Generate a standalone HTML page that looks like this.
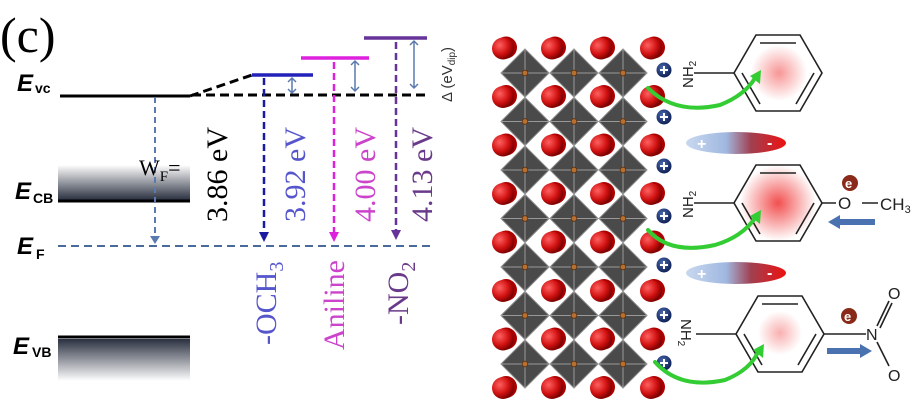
<!DOCTYPE html>
<html><head><meta charset="utf-8"><style>
html,body{margin:0;padding:0;background:#fff;}
svg{display:block;}
</style></head><body>
<svg width="921" height="410" viewBox="0 0 921 410" xmlns="http://www.w3.org/2000/svg">
<defs>
<linearGradient id="cb" x1="0" y1="0" x2="0" y2="1"><stop offset="0" stop-color="#fff"/><stop offset="1" stop-color="#2a3040"/></linearGradient>
<linearGradient id="vb" x1="0" y1="0" x2="0" y2="1"><stop offset="0" stop-color="#2a3040"/><stop offset="1" stop-color="#fff"/></linearGradient>
<linearGradient id="dip" x1="0" y1="0" x2="1" y2="0"><stop offset="0" stop-color="#c8d8f0"/><stop offset="0.4" stop-color="#a0b8e0"/><stop offset="0.65" stop-color="#a04050"/><stop offset="1" stop-color="#ee1111"/></linearGradient>
<radialGradient id="blob"><stop offset="0" stop-color="#f03030" stop-opacity="0.85"/><stop offset="1" stop-color="#f03030" stop-opacity="0"/></radialGradient>
<radialGradient id="sph" cx="0.35" cy="0.35" r="0.7"><stop offset="0" stop-color="#ff6060"/><stop offset="0.6" stop-color="#d01010"/><stop offset="1" stop-color="#700000"/></radialGradient>
<radialGradient id="pl" cx="0.4" cy="0.35" r="0.7"><stop offset="0" stop-color="#4a6ab0"/><stop offset="1" stop-color="#0a1a50"/></radialGradient>
<g id="oct"><path d="M0,-24 L24,0 L0,24 L-24,0 Z" fill="#4a4a4a" stroke="#888" stroke-width="1"/><path d="M0,-24 L0,24 M-24,0 L24,0" stroke="#999" stroke-width="1"/><circle r="2.8" fill="#b87030" stroke="#5a3010" stroke-width="0.8"/></g>
<g id="sp"><ellipse cx="3" cy="-1" rx="11" ry="11" fill="#a00"/><circle r="11" fill="url(#sph)"/></g>
<g id="plus"><circle r="7.5" fill="url(#pl)"/><path d="M-4,0 H4 M0,-4 V4" stroke="#fff" stroke-width="2"/></g>
<g id="orow">
<use href="#oct" x="525" y="0"/><use href="#oct" x="574" y="0"/><use href="#oct" x="623" y="0"/>
</g>
<g id="srow">
<use href="#sp" x="503" y="0"/><use href="#sp" x="552" y="0"/><use href="#sp" x="601" y="0"/><use href="#sp" x="651" y="0"/>
</g>
</defs>

<!-- Left panel -->
<text x="0" y="52" font-family="Liberation Serif,serif" font-size="50">(c)</text>
<g font-family="Liberation Sans,sans-serif" font-weight="bold" font-style="italic">
<text x="17" y="91" font-size="24">E</text><text x="35" y="93" font-size="14" font-style="normal">vc</text>
<text x="15" y="199" font-size="24">E</text><text x="33" y="203" font-size="14" font-style="normal">CB</text>
<text x="17" y="254" font-size="24">E</text><text x="36" y="259" font-size="14" font-style="normal">F</text>
<text x="13" y="354" font-size="24">E</text><text x="32" y="357" font-size="14" font-style="normal">VB</text>
</g>
<rect x="58" y="165" width="132" height="35" fill="url(#cb)"/>
<line x1="58" y1="201" x2="190" y2="201" stroke="#000" stroke-width="3"/>
<line x1="58" y1="337" x2="190" y2="337" stroke="#000" stroke-width="3"/>
<rect x="58" y="339" width="132" height="42" fill="url(#vb)"/>
<line x1="60" y1="96" x2="190" y2="96" stroke="#000" stroke-width="3"/>
<path d="M190,96 L252,75" stroke="#000" stroke-width="3" stroke-dasharray="9,5"/>
<line x1="192" y1="95" x2="430" y2="95" stroke="#000" stroke-width="3" stroke-dasharray="9,5"/>
<line x1="58" y1="246" x2="432" y2="246" stroke="#4a6a9a" stroke-width="2" stroke-dasharray="8,5"/>
<line x1="252" y1="75" x2="313" y2="75" stroke="#2222bb" stroke-width="3.5"/>
<line x1="301" y1="58" x2="369" y2="58" stroke="#dd22dd" stroke-width="3.5"/>
<line x1="364" y1="38" x2="427" y2="38" stroke="#663399" stroke-width="3.5"/>
<g stroke="#5a7ab0" stroke-width="1.5" fill="none">
<path d="M292,78 V93 M288,82 L292,78 L296,82 M288,89 L292,93 L296,89"/>
<path d="M355,61 V91 M351,65 L355,61 L359,65 M351,87 L355,91 L359,87"/>
<path d="M414,41 V88 M410,45 L414,41 L418,45 M410,84 L414,88 L418,84"/>
</g>
<text transform="translate(452,102) rotate(-90)" font-family="Liberation Sans,sans-serif" font-size="15" fill="#333">Δ (eV<tspan font-size="10" dy="3">dip</tspan><tspan dy="-3">)</tspan></text>
<line x1="155" y1="97" x2="155" y2="238" stroke="#5a7ab0" stroke-width="2" stroke-dasharray="6,4"/>
<path d="M150,236 L155,244 L160,236 Z" fill="#5a7ab0"/>
<text x="139" y="175" font-family="Liberation Serif,serif" font-size="22">W<tspan font-size="15" dy="6">F</tspan><tspan dy="-6">=</tspan></text>
<text transform="translate(227,222) rotate(-90)" font-family="Liberation Serif,serif" font-size="30">3.86 eV</text>
<line x1="264" y1="78" x2="264" y2="235" stroke="#1a1aa0" stroke-width="2.5" stroke-dasharray="7,4"/>
<path d="M259,232 L264,242 L269,232 Z" fill="#1a1aa0"/>
<line x1="334" y1="62" x2="334" y2="235" stroke="#dd22dd" stroke-width="2.5" stroke-dasharray="7,4"/>
<path d="M329,232 L334,242 L339,232 Z" fill="#dd22dd"/>
<line x1="396" y1="42" x2="396" y2="232" stroke="#663399" stroke-width="2.5" stroke-dasharray="7,4"/>
<path d="M391,230 L396,240 L401,230 Z" fill="#663399"/>
<g font-family="Liberation Serif,serif" font-size="30">
<text transform="translate(305,222) rotate(-90)" fill="#5555cc">3.92 eV</text>
<text transform="translate(375,222) rotate(-90)" fill="#cc44cc">4.00 eV</text>
<text transform="translate(432,222) rotate(-90)" fill="#6a3a8a">4.13 eV</text>
<text transform="translate(276,345) rotate(-90)" fill="#5555cc">-OCH<tspan font-size="20" dy="7">3</tspan></text>
<text transform="translate(344,350) rotate(-90)" fill="#cc44cc">Aniline</text>
<text transform="translate(408,325) rotate(-90)" fill="#6a3a8a">-NO<tspan font-size="20" dy="7">2</tspan></text>
</g>

<!-- Right panel: lattice -->
<use href="#orow" y="73"/>
<use href="#orow" y="121.5"/>
<use href="#orow" y="170"/>
<use href="#orow" y="218.5"/>
<use href="#orow" y="267"/>
<use href="#orow" y="315.5"/>
<use href="#orow" y="364"/>
<use href="#srow" y="48.5"/>
<use href="#srow" y="97"/>
<use href="#srow" y="145.5"/>
<use href="#srow" y="194"/>
<use href="#srow" y="242.5"/>
<use href="#srow" y="291"/>
<use href="#srow" y="339.5"/>
<use href="#srow" y="388"/>
<g>
<use href="#plus" x="664" y="70"/><use href="#plus" x="664" y="117"/><use href="#plus" x="664" y="166"/>
<use href="#plus" x="664" y="216"/><use href="#plus" x="664" y="265"/><use href="#plus" x="664" y="315"/><use href="#plus" x="664" y="363"/>
</g>
<ellipse cx="736" cy="143" rx="50" ry="11" fill="url(#dip)"/>
<ellipse cx="736" cy="273" rx="50" ry="11" fill="url(#dip)"/>
<g fill="#fff" font-family="Liberation Sans,sans-serif" font-size="16" font-weight="bold"><text x="697" y="149">+</text><text x="767" y="148">-</text><text x="697" y="279">+</text><text x="767" y="278">-</text></g>
<circle cx="779" cy="73" r="28" fill="url(#blob)" opacity="0.6"/>
<circle cx="778" cy="203" r="38" fill="url(#blob)"/>
<circle cx="780" cy="333" r="22" fill="url(#blob)" opacity="0.45"/>
<g stroke="#222" stroke-width="1.6" fill="none">
<path d="M734,73 L756,35 L800,35 L822,73 L800,111 L756,111 Z M760,43 L796,43 M814,73 L796,104 M760,104 L742,73"/>
<path d="M734,203 L756,165 L800,165 L822,203 L800,241 L756,241 Z M760,173 L796,173 M814,203 L796,234 M760,234 L742,203"/>
<path d="M736,334 L758,296 L802,296 L824,334 L802,372 L758,372 Z M762,304 L798,304 M816,334 L798,365 M762,365 L744,334"/>
<path d="M694,73 H734 M694,203 H734 M696,334 H736"/>
<path d="M822,203 H836 M862,203 H878"/>
<path d="M824,334 H866 M877,326 L889,301 M880,328 L892,303 M877,342 L889,366"/>
</g>
<g font-family="Liberation Sans,sans-serif" font-size="15" fill="#222">
<text transform="translate(693,88) rotate(-90)">NH<tspan font-size="10" dy="3">2</tspan></text>
<text transform="translate(693,218) rotate(-90)">NH<tspan font-size="10" dy="3">2</tspan></text>
<text transform="translate(681,319) rotate(90)">NH<tspan font-size="10" dy="3">2</tspan></text>
<text x="838" y="209" font-size="17">O</text>
<text x="880" y="210" font-size="17">CH<tspan font-size="11" dy="3">3</tspan></text>
<text x="866" y="340" font-size="16">N</text>
<text x="888" y="299" font-size="16">O</text>
<text x="888" y="381" font-size="16">O</text>
</g>
<circle cx="850" cy="183" r="8" fill="#8a2a1a"/><text x="845" y="188" font-family="Liberation Sans,sans-serif" font-size="13" font-weight="bold" fill="#fff">e</text>
<circle cx="849" cy="316" r="8" fill="#8a2a1a"/><text x="844" y="321" font-family="Liberation Sans,sans-serif" font-size="13" font-weight="bold" fill="#fff">e</text>
<path d="M875,219 H840 V215 L828,222 L840,229 V225 H875 Z" fill="#4a72b0"/>
<path d="M827,348 H860 V344 L872,351 L860,358 V354 H827 Z" fill="#4a72b0"/>
<g stroke="#33cc33" stroke-width="4" fill="none" stroke-linecap="round">
<path d="M648,88 Q675,115 720,105 Q745,95 755,78"/>
<path d="M648,230 Q670,255 715,245 Q742,237 755,218"/>
<path d="M655,362 Q680,390 725,380 Q750,370 758,352"/>
</g>
<g fill="#33cc33">
<path d="M750,76 L761,70 L760,84 Z"/>
<path d="M750,216 L761,210 L760,224 Z"/>
<path d="M753,350 L764,344 L763,358 Z"/>
</g>
</svg>
</body></html>
